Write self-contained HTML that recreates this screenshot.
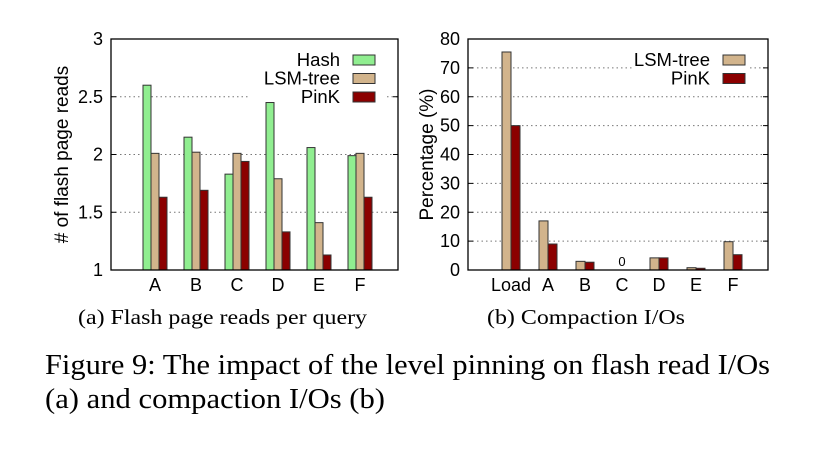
<!DOCTYPE html>
<html><head><meta charset="utf-8"><style>
html,body{margin:0;padding:0;background:#fff;}
svg{display:block;font-family:"Liberation Sans",sans-serif;}
.serif{font-family:"Liberation Serif",serif;}
</style></head><body>
<svg id="fig" width="833" height="450" viewBox="0 0 833 450">
<rect width="833" height="450" fill="#fff"/>
<g id="left"></g>
<g id="right"></g>
<text class="serif" x="78" y="324" font-size="21" textLength="289" lengthAdjust="spacingAndGlyphs">(a) Flash page reads per query</text>
<text class="serif" x="487" y="324" font-size="21" textLength="198" lengthAdjust="spacingAndGlyphs">(b) Compaction I/Os</text>
<text class="serif" x="45" y="374" font-size="29" textLength="725" lengthAdjust="spacingAndGlyphs">Figure 9: The impact of the level pinning on flash read I/Os</text>
<text class="serif" x="45" y="408" font-size="29" textLength="340" lengthAdjust="spacingAndGlyphs">(a) and compaction I/Os (b)</text>
</svg>
<script>
const leftCats = ["A","B","C","D","E","F"];
const hashVals = [2.6,2.15,1.83,2.45,2.06,1.99];
const lsmVals = [2.01,2.02,2.01,1.79,1.41,2.01];
const pinkVals = [1.63,1.69,1.94,1.33,1.13,1.63];
const leftTicks = [1,1.5,2,2.5,3];
const rightCats = ["Load","A","B","C","D","E","F"];
const lsmPct = [75.5,17,3,0,4.2,0.8,9.8];
const pinkPct = [50,9,2.7,0,4.2,0.6,5.3];
const rightTicks = [0,10,20,30,40,50,60,70,80];
const COL = {hash:"#90ee90", lsm:"#d2b48c", pink:"#8b0000"};
const NS="http://www.w3.org/2000/svg";
function mk(p,tag,a){const e=document.createElementNS(NS,tag);for(const k in a)e.setAttribute(k,a[k]);p.appendChild(e);return e;}

function chart(g,o){
  const y=v=>o.y1-(v-o.ymin)/(o.ymax-o.ymin)*(o.y1-o.y0);
  const x=i=>o.cx0+i*o.step;
  o.ticks.forEach(t=>{
    if(t===o.ymin||t===o.ymax)return;
    const yy=y(t);
    const segs=(o.gridBreak&&o.gridBreak[t])||[[o.x0,o.x1]];
    segs.forEach(s=>{const l=mk(g,"line",{x1:s[0],x2:s[1],y1:yy,y2:yy,stroke:"#777","stroke-dasharray":"1.5,3","stroke-width":1});
      
      });
  });
  o.ticks.forEach(t=>{const yy=y(t);
    const tx=mk(g,"text",{x:o.x0-8,y:yy+6,"font-size":18,"text-anchor":"end"});tx.textContent=t;
    
    
    mk(g,"line",{x1:o.x0,x2:o.x0+5,y1:yy,y2:yy,stroke:"#000"});
    mk(g,"line",{x1:o.x1,x2:o.x1-5,y1:yy,y2:yy,stroke:"#000"});
  });
  const n=o.series.length;
  o.cats.forEach((c,i)=>{
    o.series.forEach((s,j)=>{
      const v=s.vals[i]; if(v<=o.ymin)return;
      const bx=x(i)-n*o.bw/2+j*o.bw;
      const r=mk(g,"rect",{x:bx,y:y(v),width:o.bw,height:y(o.ymin)-y(v),fill:s.col,stroke:"#333","stroke-width":1});
      
      
    });
    const lt=mk(g,"text",{x:x(i),y:o.y1+21,"font-size":18,"text-anchor":"middle"});lt.textContent=c;
    
    
    if(o.zeroLabel&&o.series.every(s=>s.vals[i]===0)){
      const z=mk(g,"text",{x:x(i),y:o.y1-4,"font-size":13,"text-anchor":"middle"});z.textContent="0";
      
      
    }
  });
  const fr=mk(g,"rect",{x:o.x0,y:o.y0,width:o.x1-o.x0,height:o.y1-o.y0,fill:"none",stroke:"#000","stroke-width":1.3});
  
  
  const yl=mk(g,"text",{transform:`translate(${o.ylx},${(o.y0+o.y1)/2}) rotate(-90)`,"font-size":19,"text-anchor":"middle"});
  yl.textContent=o.ylabel;
  
  
  o.series.forEach((s,j)=>{
    const ly=o.legY+j*18.5;
    const t=mk(g,"text",{x:o.legX,y:ly+6,"font-size":18.5,"text-anchor":"end"});t.textContent=s.label;
    
    
    const b=mk(g,"rect",{x:o.legX+13,y:ly-5,width:22,height:10,fill:s.col,stroke:"#333"});
    
    
  });
}
chart(document.getElementById("left"),{x0:111,x1:398,y0:39,y1:270,ymin:1,ymax:3,ticks:leftTicks,
  cx0:155,step:41,bw:8,cats:leftCats,ylabel:"# of flash page reads",ylx:68,
  series:[{name:"hash",label:"Hash",vals:hashVals,col:COL.hash},{name:"lsm",label:"LSM-tree",vals:lsmVals,col:COL.lsm},{name:"pink",label:"PinK",vals:pinkVals,col:COL.pink}],
  legX:340,legY:60,gridBreak:{2.5:[[111,248],[387,398]]}});
chart(document.getElementById("right"),{x0:468,x1:768,y0:39,y1:270,ymin:0,ymax:80,ticks:rightTicks,
  cx0:511,step:37,bw:9,cats:rightCats,ylabel:"Percentage (%)",ylx:433,zeroLabel:true,
  series:[{name:"lsm",label:"LSM-tree",vals:lsmPct,col:COL.lsm},{name:"pink",label:"PinK",vals:pinkPct,col:COL.pink}],
  legX:710,legY:60,gridBreak:{70:[[468,633],[750,768]]}});
</script>
</body></html>
